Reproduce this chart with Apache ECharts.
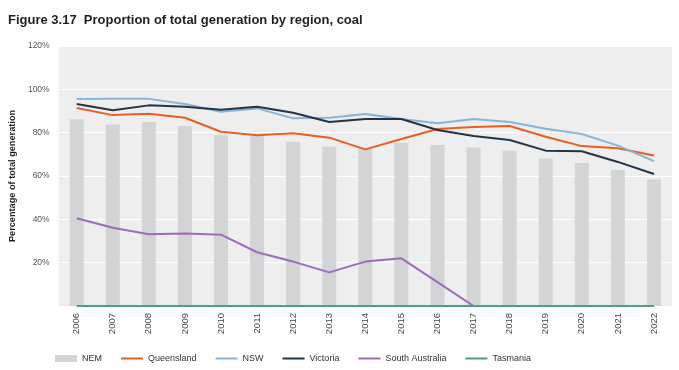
<!DOCTYPE html>
<html>
<head>
<meta charset="utf-8">
<script src="https://cdn.jsdelivr.net/npm/echarts@6/dist/echarts.min.js"></script>
<style>
html,body{margin:0;padding:0;background:#fff;}
#chart{width:679px;height:370px;}
</style>
</head>
<body>
<div id="chart"></div>
<script>
const years = ['2006','2007','2008','2009','2010','2011','2012','2013','2014','2015','2016','2017','2018','2019','2020','2021','2022'];
const nem = [86.2, 83.8, 84.9, 83.1, 78.9, 78.5, 75.8, 73.5, 72.8, 75.4, 74.3, 73.2, 71.7, 68.1, 66.0, 62.8, 58.5];
const queensland = [91.4, 88.1, 88.7, 86.9, 80.4, 78.8, 79.7, 77.7, 72.3, 77.1, 81.7, 82.6, 83.1, 78.1, 73.8, 72.8, 69.5];
const nsw = [95.5, 95.7, 95.6, 93.2, 89.7, 91.2, 86.6, 86.9, 88.6, 86.3, 84.3, 86.3, 84.9, 81.8, 79.4, 74.0, 66.9];
const victoria = [93.2, 90.3, 92.6, 92.0, 90.6, 92.0, 89.2, 84.9, 86.3, 86.3, 81.2, 78.5, 76.6, 71.7, 71.4, 66.5, 60.9];
const southAustralia = [40.5, 36.1, 33.1, 33.5, 32.9, 24.8, 20.5, 15.5, 20.5, 22.0, 11.0, 0, 0, 0, 0, 0, 0];
const tasmania = [0, 0, 0, 0, 0, 0, 0, 0, 0, 0, 0, 0, 0, 0, 0, 0, 0];
const yTicks = [0, 20, 40, 60, 80, 100, 120];

const FONT = "'Liberation Sans', Arial, Helvetica, sans-serif";
const LINE_ICON = 'path://M0,0h22v2h-22z';
const chart = echarts.init(document.getElementById('chart'));

function lineSeries(name, data, color) {
  return {
    name: name, type: 'line', data: data, symbol: 'none', smooth: false,
    lineStyle: {color: color, width: 2}, itemStyle: {color: color},
    emphasis: {disabled: true}, z: 3
  };
}

chart.setOption({
  animation: false,
  backgroundColor: '#ffffff',
  textStyle: {fontFamily: FONT},
  title: {
    text: 'Figure 3.17  Proportion of total generation by region, coal',
    left: 8, top: 14, padding: 0,
    textStyle: {fontFamily: FONT, fontSize: 13, fontWeight: 'bold', color: '#231f20'}
  },
  grid: {
    left: 55, right: 7, top: 46, bottom: 64,
    show: true, backgroundColor: '#eeeeee', borderWidth: 0, containLabel: false
  },
  legend: {
    left: 55, top: 354, padding: 0,
    itemWidth: 22, itemHeight: 7, itemGap: 19, symbolKeepAspect: true,
    textStyle: {fontFamily: FONT, fontSize: 9, color: '#333'},
    data: [
      {name: 'NEM', icon: 'rect'},
      {name: 'Queensland', icon: LINE_ICON}, {name: 'NSW', icon: LINE_ICON}, {name: 'Victoria', icon: LINE_ICON},
      {name: 'South Australia', icon: LINE_ICON}, {name: 'Tasmania', icon: LINE_ICON}
    ]
  },
  xAxis: {
    type: 'category', data: years, boundaryGap: true,
    axisLine: {show: false}, axisTick: {show: false},
    axisLabel: {rotate: 90, margin: 7, fontFamily: FONT, fontSize: 9.5, color: '#444'}
  },
  yAxis: {
    type: 'value', min: yTicks[0], max: yTicks[yTicks.length - 1], interval: 20,
    name: 'Percentage of total generation', nameLocation: 'middle', nameGap: 38,
    nameTextStyle: {fontFamily: FONT, fontSize: 9.2, fontWeight: 'bold', color: '#231f20'},
    axisLine: {show: false}, axisTick: {show: false},
    axisLabel: {
      margin: 9, fontFamily: FONT, fontSize: 8.5, color: '#555',
      formatter: v => (v === 0 ? '' : v + '%')
    },
    splitLine: {show: true, lineStyle: {color: '#ffffff', width: 1}}
  },
  series: [
    {name: 'NEM', type: 'bar', data: nem, barWidth: 14, itemStyle: {color: '#d3d4d6'}, emphasis: {disabled: true}, z: 2},
    lineSeries('Queensland', queensland, '#e6601f'),
    lineSeries('NSW', nsw, '#86b5dc'),
    lineSeries('Victoria', victoria, '#243346'),
    lineSeries('South Australia', southAustralia, '#9a6bbf'),
    lineSeries('Tasmania', tasmania, '#4f9f80')
  ]
});
</script>
</body>
</html>
